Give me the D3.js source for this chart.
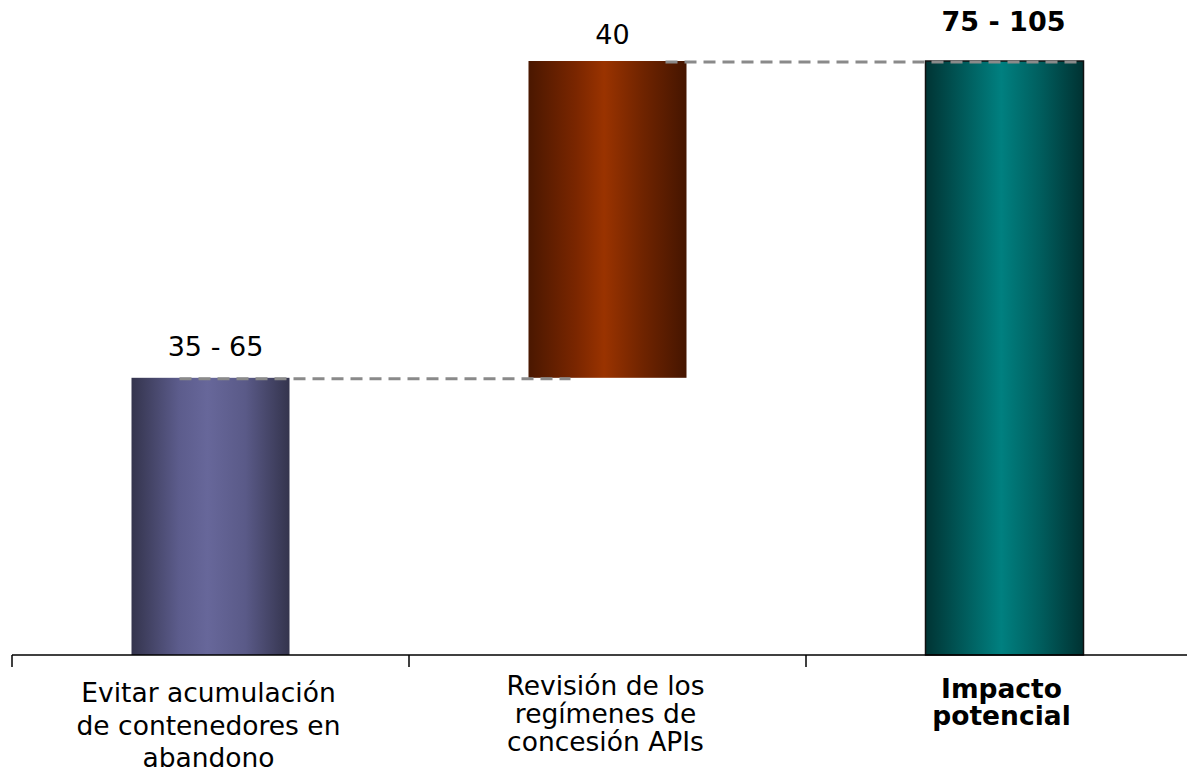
<!DOCTYPE html>
<html>
<head>
<meta charset="utf-8">
<script src="https://cdn.jsdelivr.net/npm/d3@7"></script>
<style>
  html, body { margin: 0; padding: 0; background: #fff; }
  svg { display: block; }
  text { font-family: Verdana, "DejaVu Sans", sans-serif; fill: #000; }
</style>
</head>
<body>
<svg id="chart" width="1187" height="770"></svg>
<script>
// Waterfall: two contributing levers and the resulting total
const categories = ["Evitar acumulación de contenedores en abandono",
                    "Revisión de los regímenes de concesión APIs",
                    "Impacto potencial"];
const categoryLines = [["Evitar acumulación", "de contenedores en", "abandono"],
                       ["Revisión de los", "regímenes de", "concesión APIs"],
                       ["Impacto", "potencial"]];
const deltas = [35, 40, 75];
const isTotal = [false, false, true];
const valueLabels = ["35 - 65", "40", "75 - 105"];

const W = 1187, H = 770;
const svg = d3.select("#chart");

// build start/end of each bar
let running = 0;
const bars = categories.map((c, i) => {
  let y0, y1;
  if (isTotal[i]) { y0 = 0; y1 = deltas[i]; running = deltas[i]; }
  else { y0 = running; y1 = running + deltas[i]; running = y1; }
  return { cat: c, i, y0, y1, lines: categoryLines[i], label: valueLabels[i], total: isTotal[i] };
});

const x = d3.scaleBand().domain(categories).range([12, 12 + 397 * 3]).paddingInner(0).paddingOuter(0);
const y = d3.scaleLinear().domain([0, 75]).range([655, 61]);
const barW = 158;
const barX = d => x(d.cat) + (x.bandwidth() - barW) / 2;
const mid = d => x(d.cat) + x.bandwidth() / 2;

// gradients: dark edges, light core slightly left of centre
const palettes = [
  ["#34344d", "#5c5c8c", "#67679a", "#5a5a88", "#34344d"],
  ["#4a1700", "#7a2600", "#9a3300", "#702400", "#451500"],
  ["#003434", "#006464", "#008080", "#005f5f", "#003232"]
];
const defs = svg.append("defs");
palettes.forEach((p, i) => {
  const g = defs.append("linearGradient").attr("id", "grad" + i)
    .attr("x1", "0%").attr("x2", "100%").attr("y1", "0%").attr("y2", "0%");
  const offs = [0, 0.3, 0.48, 0.72, 1];
  p.forEach((col, k) => g.append("stop").attr("offset", offs[k]).attr("stop-color", col));
});

// bars
svg.append("g").selectAll("rect").data(bars).join("rect")
  .attr("x", barX)
  .attr("y", d => y(d.y1))
  .attr("width", barW)
  .attr("height", d => y(d.y0) - y(d.y1))
  .attr("fill", d => `url(#grad${d.i})`)
  .attr("stroke", d => d.total ? "#111" : "none")
  .attr("stroke-width", d => d.total ? 1.5 : 0);

// dashed connectors between consecutive bar tops
const connectors = bars.slice(0, -1).map((d, k) => ({
  x1: barX(d) + (k === 0 ? 48 : 137),
  x2: barX(bars[k + 1]) + (k === 0 ? 42 : 154),
  yv: d.y1
}));
svg.append("g").selectAll("line").data(connectors).join("line")
  .attr("x1", d => d.x1).attr("x2", d => d.x2)
  .attr("y1", d => y(d.yv) + 1).attr("y2", d => y(d.yv) + 1)
  .attr("stroke", "#8a8a8a").attr("stroke-width", 3)
  .attr("stroke-dasharray", "12,7");

// axis: baseline with ticks on category boundaries
const axis = svg.append("g").attr("transform", `translate(0,${y(0)})`)
  .call(d3.axisBottom(x).tickSize(0).tickFormat(""));
axis.select(".domain").attr("stroke", "#000").attr("stroke-width", 1.5)
  .attr("d", `M12,0H${W}`);
const bounds = categories.map(c => x(c));
axis.selectAll(".bound").data(bounds).join("line").attr("class", "bound")
  .attr("x1", d => d).attr("x2", d => d).attr("y1", 0).attr("y2", 12)
  .attr("stroke", "#000").attr("stroke-width", 1.5);

// category labels (first column uses looser line spacing)
const lineBase = [702, 695, 698];
const lineStep = [32.5, 28, 27];
const catG = svg.append("g").selectAll("text").data(bars).join("text")
  .attr("text-anchor", "middle")
  .attr("font-size", 26.5)
  .attr("font-weight", d => d.total ? "bold" : "normal")
  .attr("transform", d => `translate(${mid(d) + (d.total ? -3 : -2)},0)`);
catG.selectAll("tspan").data(d => d.lines.map((l, j) => ({ l, j, d }))).join("tspan")
  .attr("x", 0)
  .attr("y", t => lineBase[t.d.i] + t.j * lineStep[t.d.i])
  .text(t => t.l);

// value labels above each bar
const labelGap = [22, 17, 30];
svg.append("g").selectAll("text").data(bars).join("text")
  .attr("text-anchor", "middle")
  .attr("x", d => mid(d) + (d.total ? -1 : 5))
  .attr("y", d => y(d.y1) - labelGap[d.i])
  .attr("font-size", 27)
  .attr("font-weight", d => d.total ? "bold" : "normal")
  .text(d => d.label);
</script>
</body>
</html>
